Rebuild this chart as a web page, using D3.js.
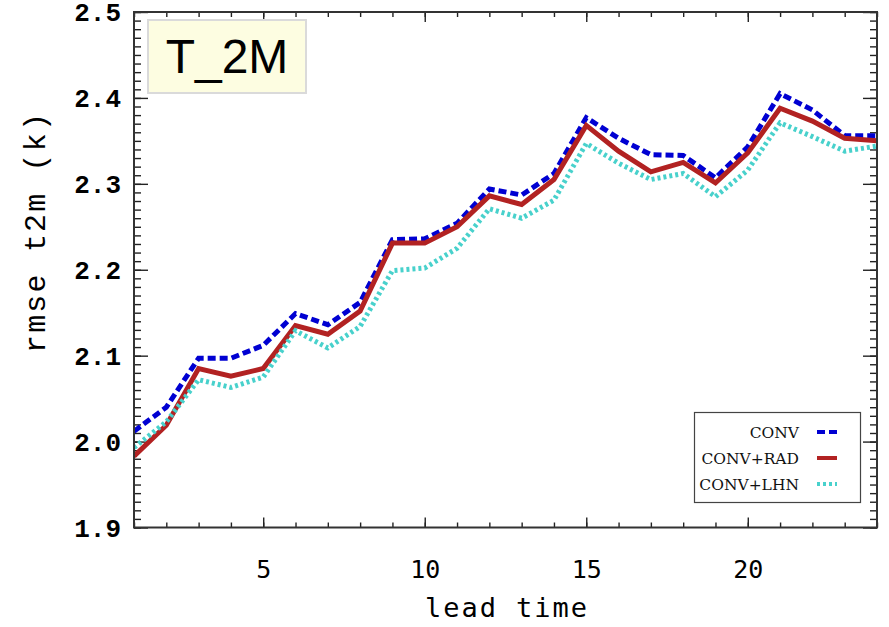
<!DOCTYPE html>
<html>
<head>
<meta charset="utf-8">
<script src="https://cdn.jsdelivr.net/npm/d3@7/dist/d3.min.js"></script>
<style>
  html, body { margin: 0; padding: 0; background: #fff; }
  svg { display: block; }
</style>
</head>
<body>
<svg id="chart" width="889" height="627"></svg>
<script>
// Forecast lead time (hours) and T_2M rmse for three experiments
const leadTime = [1, 2, 3, 4, 5, 6, 7, 8, 9, 10, 11, 12, 13, 14, 15, 16, 17, 18, 19, 20, 21, 22, 23, 24];
const conv    = [2.012, 2.040, 2.097, 2.097, 2.112, 2.149, 2.136, 2.162, 2.235, 2.236, 2.254, 2.294,
                 2.287, 2.312, 2.377, 2.353, 2.334, 2.333, 2.307, 2.343, 2.405, 2.386, 2.356, 2.356];
const convRad = [1.983, 2.019, 2.085, 2.076, 2.085, 2.135, 2.125, 2.152, 2.231, 2.231, 2.250, 2.286,
                 2.276, 2.305, 2.368, 2.338, 2.314, 2.325, 2.301, 2.336, 2.388, 2.373, 2.353, 2.350];
const convLhn = [1.993, 2.023, 2.072, 2.063, 2.075, 2.129, 2.109, 2.134, 2.199, 2.202, 2.225, 2.271,
                 2.260, 2.281, 2.347, 2.324, 2.305, 2.312, 2.285, 2.316, 2.371, 2.355, 2.338, 2.344];
const seriesNames = ["CONV", "CONV+RAD", "CONV+LHN"];
const xTickValues = [5, 10, 15, 20];
const yTickValues = [1.9, 2.0, 2.1, 2.2, 2.3, 2.4, 2.5];

const series = [
  { name: seriesNames[0], values: conv,    color: "#0000d2", dash: "8,4", width: 5 },
  { name: seriesNames[1], values: convRad, color: "#b22222", dash: null,  width: 5 },
  { name: seriesNames[2], values: convLhn, color: "#48d1cc", dash: "3,3", width: 5 }
];

const plot = { left: 134, right: 877, top: 12, bottom: 527.5 };
const svg = d3.select("#chart");

const x = d3.scaleLinear().domain([1, 24]).range([plot.left, plot.right]);
const y = d3.scaleLinear().domain([1.9, 2.5]).range([plot.bottom, plot.top]);

// clip for data lines
svg.append("defs").append("clipPath").attr("id", "plotClip")
  .append("rect")
  .attr("x", plot.left).attr("y", plot.top)
  .attr("width", plot.right - plot.left).attr("height", plot.bottom - plot.top);

// inward ticks on all four sides
const xMinor = d3.range(1, 25);
const yMinor = d3.range(190, 251).map(d => d / 100);
const tickColor = "#222";

function drawAxis(axis, transform) {
  const g = svg.append("g").attr("transform", transform).call(axis);
  g.select(".domain").remove();
  g.selectAll(".tick line").attr("stroke", tickColor).attr("stroke-width", 1.4);
  g.selectAll("text").remove();
  return g;
}
// x minor/major bottom & top (ticks pointing into the plot)
drawAxis(d3.axisTop(x).tickValues(xMinor).tickSize(5), `translate(0,${plot.bottom})`);
drawAxis(d3.axisTop(x).tickValues(xTickValues).tickSize(10), `translate(0,${plot.bottom})`);
drawAxis(d3.axisBottom(x).tickValues(xMinor).tickSize(5), `translate(0,${plot.top})`);
drawAxis(d3.axisBottom(x).tickValues(xTickValues).tickSize(10), `translate(0,${plot.top})`);
// y minor/major left & right
drawAxis(d3.axisRight(y).tickValues(yMinor).tickSize(7), `translate(${plot.left},0)`);
drawAxis(d3.axisRight(y).tickValues(yTickValues).tickSize(14), `translate(${plot.left},0)`);
drawAxis(d3.axisLeft(y).tickValues(yMinor).tickSize(7), `translate(${plot.right},0)`);
drawAxis(d3.axisLeft(y).tickValues(yTickValues).tickSize(14), `translate(${plot.right},0)`);

// tick labels
const yLab = svg.append("g").call(d3.axisLeft(y).tickValues(yTickValues).tickSize(0).tickPadding(0).tickFormat(d3.format(".1f")))
  .attr("transform", `translate(${plot.left - 13},0)`);
yLab.select(".domain").remove();
yLab.selectAll("text")
  .attr("font-family", "'Liberation Mono', 'Courier New', monospace")
  .attr("font-weight", "bold").attr("font-size", 26).attr("fill", "#000")
  .attr("dy", "0.34em");

const xLab = svg.append("g").call(d3.axisBottom(x).tickValues(xTickValues).tickSize(0).tickPadding(0))
  .attr("transform", `translate(0,${plot.bottom})`);
xLab.select(".domain").remove();
xLab.selectAll("text")
  .attr("font-family", "'DejaVu Sans Mono', monospace")
  .attr("font-size", 25).attr("fill", "#000")
  .attr("y", 50).attr("dy", 0);

// axis titles
svg.append("text")
  .attr("x", 506).attr("y", 617)
  .attr("text-anchor", "middle")
  .attr("font-family", "'DejaVu Sans Mono', monospace")
  .attr("font-size", 27).attr("fill", "#000")
  .attr("textLength", 162).attr("lengthAdjust", "spacing")
  .text("lead time");

svg.append("text")
  .attr("transform", "translate(45,233) rotate(-90)")
  .attr("text-anchor", "middle")
  .attr("font-family", "'Liberation Mono', 'Courier New', monospace")
  .attr("font-size", 30).attr("fill", "#000")
  .attr("textLength", 240).attr("lengthAdjust", "spacing")
  .text("rmse t2m (k)");

// data lines
const line = d3.line().x((d, i) => x(leadTime[i])).y(d => y(d));
const lines = svg.append("g").attr("clip-path", "url(#plotClip)");
series.forEach(s => {
  lines.append("path")
    .datum(s.values)
    .attr("d", line)
    .attr("fill", "none")
    .attr("stroke", s.color)
    .attr("stroke-width", s.width)
    .attr("stroke-linejoin", "miter")
    .attr("stroke-dasharray", s.dash);
});

// frame
svg.append("rect")
  .attr("x", plot.left).attr("y", plot.top)
  .attr("width", plot.right - plot.left).attr("height", plot.bottom - plot.top)
  .attr("fill", "none").attr("stroke", "#333").attr("stroke-width", 2);

// variable label box
const tb = svg.append("g");
tb.append("rect")
  .attr("x", 148).attr("y", 20).attr("width", 158).attr("height", 73)
  .attr("fill", "#fdfde1").attr("stroke", "#dadada").attr("stroke-width", 2);
tb.append("text")
  .attr("x", 227).attr("y", 73)
  .attr("text-anchor", "middle")
  .attr("font-family", "'Liberation Sans', Arial, sans-serif")
  .attr("font-size", 48).attr("fill", "#000")
  .text("T_2M");

// legend
const lg = svg.append("g");
lg.append("rect")
  .attr("x", 694.5).attr("y", 412.5).attr("width", 166).attr("height", 90)
  .attr("fill", "#fff").attr("stroke", "#444").attr("stroke-width", 1.2);
series.forEach((s, i) => {
  const by = 438 + i * 26;
  lg.append("text")
    .attr("x", 799).attr("y", by)
    .attr("text-anchor", "end")
    .attr("font-family", "'DejaVu Serif', serif")
    .attr("font-size", 15.5).attr("fill", "#111")
    .text(s.name);
  lg.append("line")
    .attr("x1", 817).attr("x2", 837)
    .attr("y1", by - 6).attr("y2", by - 6)
    .attr("stroke", s.color).attr("stroke-width", 4)
    .attr("stroke-dasharray", s.dash);
});
</script>
</body>
</html>
